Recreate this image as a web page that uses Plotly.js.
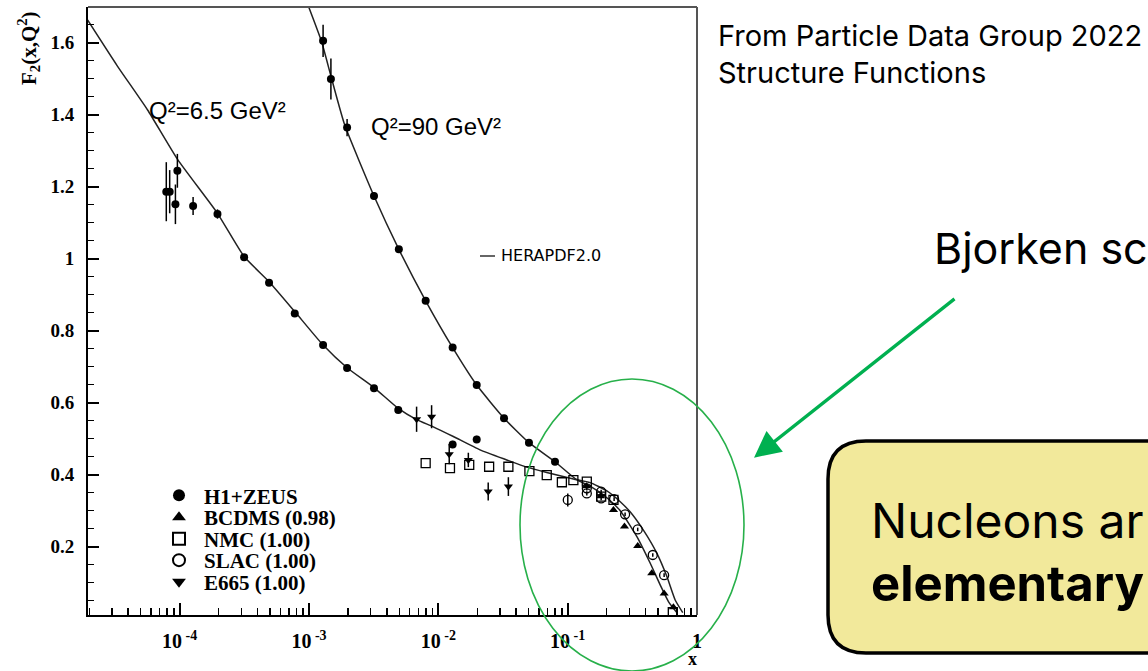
<!DOCTYPE html>
<html>
<head>
<meta charset="utf-8">
<script src="https://cdn.plot.ly/plotly-3.0.1.min.js"></script>
<style>html,body{margin:0;padding:0;background:#fff;overflow:hidden}#chart{width:1148px;height:671px}</style>
</head>
<body>
<div id="chart"></div>
<script>
// ---------------- data ----------------
// HERAPDF2.0 curve, Q^2 = 6.5 GeV^2
const curve65X = [1.94e-5, 3.3e-5, 5.65e-5, 9.66e-5, 1.96e-4, 3.15e-4, 4.91e-4, 7.76e-4, 1.285e-3, 1.97e-3, 3.18e-3, 4.90e-3, 6.79e-3, 9.14e-3, 0.01306, 0.0210, 0.0338, 0.0482, 0.0689, 0.1107, 0.149, 0.201, 0.255, 0.304, 0.385, 0.489, 0.585, 0.678, 0.776];
const curve65Y = [1.663, 1.535, 1.413, 1.275, 1.126, 1.006, 0.936, 0.853, 0.760, 0.697, 0.642, 0.584, 0.553, 0.533, 0.506, 0.469, 0.441, 0.421, 0.406, 0.388, 0.378, 0.355, 0.325, 0.297, 0.246, 0.182, 0.117, 0.052, 0.017];
// HERAPDF2.0 curve, Q^2 = 90 GeV^2
const curve90X = [1.0e-3, 1.25e-3, 1.493e-3, 1.89e-3, 3.18e-3, 4.95e-3, 7.98e-3, 0.0129, 0.0198, 0.0322, 0.0502, 0.0798, 0.1175, 0.149, 0.201, 0.255, 0.343, 0.435, 0.519, 0.603, 0.698];
const curve90Y = [1.697, 1.603, 1.501, 1.371, 1.174, 1.026, 0.883, 0.753, 0.649, 0.557, 0.489, 0.436, 0.386, 0.368, 0.336, 0.300, 0.228, 0.154, 0.094, 0.047, 0.017];

// H1+ZEUS, Q^2 = 6.5
const h1z65X = [7.88e-5, 8.37e-5, 9.27e-5, 9.6e-5, 1.27e-4, 1.96e-4, 3.15e-4, 4.91e-4, 7.76e-4, 1.285e-3, 1.97e-3, 3.18e-3, 4.9e-3, 0.0129, 0.0198];
const h1z65Y = [1.186, 1.186, 1.151, 1.244, 1.146, 1.124, 1.004, 0.933, 0.848, 0.760, 0.696, 0.640, 0.580, 0.484, 0.498];
const h1z65E = [0.082, 0.060, 0.055, 0.047, 0.025, 0.013, 0.008, 0.008, 0.008, 0.007, 0.007, 0.007, 0.007, 0.010, 0.010];
// H1+ZEUS, Q^2 = 90
const h1z90X = [1.285e-3, 1.477e-3, 1.97e-3, 3.18e-3, 4.95e-3, 7.98e-3, 0.0129, 0.0198, 0.0322, 0.0502, 0.0798];
const h1z90Y = [1.605, 1.499, 1.364, 1.174, 1.026, 0.883, 0.753, 0.649, 0.557, 0.489, 0.436];
const h1z90E = [0.045, 0.057, 0.024, 0.010, 0.008, 0.007, 0.007, 0.006, 0.006, 0.006, 0.006];
// BCDMS (0.98)
const bcdmsX = [0.14, 0.18, 0.226, 0.275, 0.348, 0.447, 0.557, 0.657];
const bcdmsY = [0.368, 0.340, 0.302, 0.256, 0.202, 0.126, 0.070, 0.032];
// NMC (1.00)
const nmcX = [7.98e-3, 0.0123, 0.01733, 0.0247, 0.0348, 0.0506, 0.0689, 0.0902, 0.1107, 0.1406, 0.1815, 0.226, 0.65];
const nmcY = [0.432, 0.418, 0.427, 0.422, 0.422, 0.410, 0.399, 0.379, 0.385, 0.381, 0.339, 0.330, 0.018];
// SLAC (1.00)
const slacX = [0.1002, 0.1406, 0.1406, 0.1815, 0.1815, 0.2286, 0.278, 0.348, 0.455, 0.557];
const slacY = [0.330, 0.362, 0.348, 0.353, 0.334, 0.332, 0.290, 0.248, 0.177, 0.121];
const slacE = [0.018, 0.006, 0.006, 0.005, 0.005, 0.005, 0.005, 0.005, 0.005, 0.005];
// E665 (1.00)
const e665X = [6.79e-3, 8.87e-3, 0.01214, 0.01706, 0.0243, 0.0348];
const e665Y = [0.554, 0.561, 0.457, 0.441, 0.353, 0.367];
const e665E = [0.035, 0.032, 0.028, 0.020, 0.025, 0.026];

// axis ticks / labels
const xTickVals = [1e-4, 1e-3, 1e-2, 1e-1, 1];
const xTickText = ['10<sup>\u00a0-4</sup>', '10<sup>\u00a0-3</sup>', '10<sup>\u00a0-2</sup>', '10<sup>\u00a0-1</sup>', '1'];
const legendNames = ['H1+ZEUS', 'BCDMS (0.98)', 'NMC (1.00)', 'SLAC (1.00)', 'E665 (1.00)'];

// ---------------- layout helpers (pixel -> paper) ----------------
const L = 88, R = 697, T = 7, B = 615, FW = 1148, FH = 671;
const W = R - L, H = B - T;
const px = x => (x - L) / W;
const py = y => (B - y) / H;

const xMinor = [];
for (let k = -5; k <= -1; k++) for (let m = 2; m <= 9; m++) { const v = m * Math.pow(10, k); if (v > 1.96e-5 && v < 1) xMinor.push(v); }

const serif = 'Liberation Serif';
const errStyle = arr => ({type: 'data', array: arr, visible: true, color: '#000', thickness: 1.5, width: 0});
const curveLine = {color: '#222', width: 1.5, shape: 'spline', smoothing: 0.5};

const traces = [
  {x: curve65X, y: curve65Y, mode: 'lines', line: curveLine, showlegend: false, hoverinfo: 'skip'},
  {x: curve90X, y: curve90Y, mode: 'lines', line: curveLine, showlegend: false, hoverinfo: 'skip'},
  {x: h1z65X, y: h1z65Y, error_y: errStyle(h1z65E), mode: 'markers', name: legendNames[0], legendgroup: 'h1', legend: 'legend',
   marker: {symbol: 'circle', size: 8, color: '#000'}},
  {x: h1z90X, y: h1z90Y, error_y: errStyle(h1z90E), mode: 'markers', name: legendNames[0], legendgroup: 'h1', showlegend: false,
   marker: {symbol: 'circle', size: 8, color: '#000'}},
  {x: bcdmsX, y: bcdmsY, mode: 'markers', name: legendNames[1], legend: 'legend2',
   marker: {symbol: 'triangle-up', size: 8, color: '#000'}},
  {x: nmcX, y: nmcY, mode: 'markers', name: legendNames[2], legend: 'legend3',
   marker: {symbol: 'square-open', size: 9, color: '#000', line: {width: 1.3}}},
  {x: slacX, y: slacY, error_y: errStyle(slacE), mode: 'markers', name: legendNames[3], legend: 'legend4',
   marker: {symbol: 'circle-open', size: 9, color: '#000', line: {width: 1.3}}},
  {x: e665X, y: e665Y, error_y: errStyle(e665E), mode: 'markers', name: legendNames[4], legend: 'legend5',
   marker: {symbol: 'triangle-down', size: 8, color: '#000'}}
];

const legRows = [495.7, 517.5, 539, 560.5, 582];
const legBase = i => ({x: px(154), y: py(legRows[i]), xanchor: 'left', yanchor: 'middle', bgcolor: 'rgba(0,0,0,0)',
  font: {family: serif, size: 21, color: '#000', weight: 'bold'}, itemsizing: 'constant', itemwidth: 40, borderwidth: 0});

const r = 38, bx0 = 828, bx1 = 1200, by0 = 441, by1 = 653;
const boxPath = `M ${px(bx0 + r)} ${py(by0)} L ${px(bx1)} ${py(by0)} L ${px(bx1)} ${py(by1)} L ${px(bx0 + r)} ${py(by1)} ` +
  `Q ${px(bx0)} ${py(by1)} ${px(bx0)} ${py(by1 - r)} L ${px(bx0)} ${py(by0 + r)} Q ${px(bx0)} ${py(by0)} ${px(bx0 + r)} ${py(by0)} Z`;

const sans = 'Liberation Sans';
const ann = (x, y, text, size, family, extra) => Object.assign({xref: 'paper', yref: 'paper', x: px(x), y: py(y), text: text,
  showarrow: false, xanchor: 'left', yanchor: 'middle', font: {family: family, size: size, color: '#000'}}, extra || {});

const layout = {
  width: FW, height: FH,
  margin: {l: L, r: FW - R, t: T, b: FH - B, pad: 0},
  paper_bgcolor: '#fff', plot_bgcolor: '#fff',
  showlegend: true,
  xaxis: {type: 'log', range: [Math.log10(1.955e-5), 0], showgrid: false, zeroline: false,
    showline: true, linecolor: '#000', linewidth: 2,
    tickmode: 'array', tickvals: xTickVals, ticktext: xTickText,
    ticks: 'inside', ticklen: 12, tickwidth: 2, tickcolor: '#000',
    tickfont: {family: serif, size: 20, color: '#000', weight: 'bold'}, ticklabelstandoff: 7,
    minor: {tickmode: 'array', tickvals: xMinor, ticks: 'inside', ticklen: 7, tickwidth: 1.5, tickcolor: '#000', showgrid: false}},
  yaxis: {range: [0.0103, 1.699], showgrid: false, zeroline: false,
    showline: true, linecolor: '#000', linewidth: 2,
    tick0: 0, dtick: 0.2, ticks: 'inside', ticklen: 11, tickwidth: 2, tickcolor: '#000',
    tickfont: {family: serif, size: 19, color: '#000', weight: 'bold'}, ticklabelstandoff: 8,
    minor: {tick0: 0, dtick: 0.05, ticks: 'inside', ticklen: 6, tickwidth: 1.5, tickcolor: '#000', showgrid: false}},
  legend: legBase(0), legend2: legBase(1), legend3: legBase(2), legend4: legBase(3), legend5: legBase(4),
  shapes: [
    {type: 'line', xref: 'paper', yref: 'paper', x0: 0, x1: 1, y0: 1, y1: 1, line: {color: '#555', width: 2}},
    {type: 'line', xref: 'paper', yref: 'paper', x0: 1, x1: 1, y0: 0, y1: 1, line: {color: '#555', width: 2}},
    {type: 'line', xref: 'paper', yref: 'paper', x0: px(480), x1: px(495), y0: py(256), y1: py(256), line: {color: '#000', width: 1.2}},
    {type: 'circle', xref: 'paper', yref: 'paper', x0: px(520), x1: px(744), y0: py(671), y1: py(379), line: {color: '#27b04a', width: 1.6}},
    {type: 'path', xref: 'paper', yref: 'paper', path: boxPath, fillcolor: '#F2E99B', line: {color: '#000', width: 3.5}}
  ],
  annotations: [
    ann(28, 48, '<b>F<sub>2</sub>(x,Q<sup>2</sup>)</b>', 21, serif, {textangle: -90, xanchor: 'center'}),
    ann(692, 659, '<b>x</b>', 18, serif, {xanchor: 'center'}),
    ann(147, 111, 'Q\u00b2=6.5 GeV\u00b2', 24, sans),
    ann(369, 127, 'Q\u00b2=90 GeV\u00b2', 24, sans),
    ann(499, 255, 'HERAPDF2.0', 16, 'DejaVu Sans'),
    ann(716, 35.5, 'From Particle Data Group 2022', 29, 'Inter'),
    ann(716, 73, 'Structure Functions', 29, 'Inter'),
    ann(932, 247.5, 'Bjorken sc', 43, 'Inter'),
    ann(869, 520.5, 'Nucleons ar', 48, 'Inter'),
    ann(869, 583, '<b>elementary</b>', 49, 'Inter'),
    {xref: 'paper', yref: 'paper', x: px(754), y: py(457.7), ax: 202, ay: -160, text: '', showarrow: true,
     arrowhead: 2, arrowsize: 1.6, arrowwidth: 3.3, arrowcolor: '#00B050', standoff: 0}
  ]
};

Plotly.newPlot('chart', traces, layout, {displayModeBar: false, staticPlot: true});
</script>
</body>
</html>
